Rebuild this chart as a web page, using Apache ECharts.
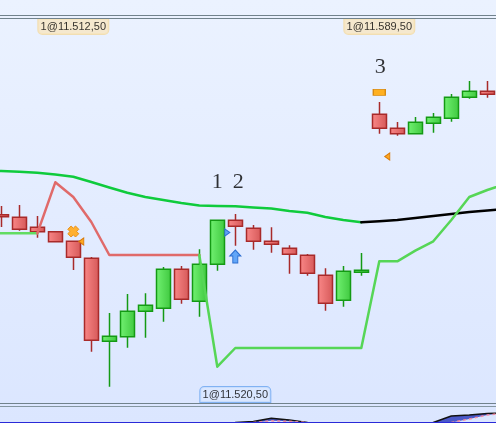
<!DOCTYPE html>
<html><head><meta charset="utf-8">
<style>html,body{margin:0;padding:0;background:#e6eeff}#c{width:496px;height:423px}</style>
<script src="https://cdn.jsdelivr.net/npm/echarts@6/dist/echarts.min.js"></script>
</head><body><div id="c"></div>
<script>
// One session of index futures, [open, close, low, high]
const sessions = Array.from({length:30},(_,i)=>String(i));
const candles = [
 ['-','-','-','-'],
 [11504.15,11503.15,11498,11508.5],
 [11502.85,11496.85,11496.15,11509],
 [11497.85,11495.65,11492.65,11503.5],
 [11495.65,11490.65,11490.25,11495.65],
 [11490.85,11482.85,11476.5,11491],
 [11482.35,11441.35,11435.65,11483],
 [11440.85,11443.35,11418.15,11455],
 [11443.15,11455.85,11437.65,11464.5],
 [11455.85,11458.85,11442.65,11464.85],
 [11457.35,11476.85,11450.65,11478],
 [11476.85,11461.85,11459.65,11478.5],
 [11460.85,11479.35,11453.15,11486.85],
 [11479.35,11501.35,11476.15,11501.35],
 [11501.35,11498.35,11488.65,11504.5],
 [11497.35,11490.85,11486.65,11499],
 [11490.85,11489.35,11485.15,11497.85],
 [11487.35,11484.35,11474.65,11488.85],
 [11483.85,11474.85,11473.65,11484.5],
 [11473.85,11459.85,11456.15,11477.35],
 [11461.35,11475.85,11458.15,11478.5],
 [11475.35,11476.35,11473.65,11485],
 [11554.35,11547.35,11544.65,11560.5],
 [11547.35,11544.65,11543.65,11550.5],
 [11544.65,11550.35,11544.65,11553],
 [11549.85,11552.85,11545.15,11555],
 [11552.35,11562.85,11550.65,11564.5],
 [11562.85,11565.85,11562.15,11571],
 [11565.85,11564.35,11562.65,11571],
 ['-','-','-','-']
];
const slowGreen = [11526.25,11526,11525.65,11525.15,11524.25,11523.15,11520.5,11517.75,11515.15,11513,11511.5,11510,11508.75,11508.5,11508.35,11507.75,11507.25,11506,11505.15,11503,11501.5,11500.35];
const slowBlack = [null,null,null,null,null,null,null,null,null,null,null,null,null,null,null,null,null,null,null,null,null,11500.35,11500.85,11501.5,11502.5,11503.5,11504.5,11505.5,11506.25,11507];
const stopLong1 = [11494.85,11494.85,11494.85,11494.85];
const stopShort = [null,null,null,11494.85,11520.35,11513,11500.5,11484,11484,11484,11484,11484,11484];
const stopLong2 = [null,null,null,null,null,null,null,null,null,null,null,null,11484,11428.15,11437.5,11437.5,11437.5,11437.5,11437.5,11437.5,11437.5,11437.5,11480.85,11480.85,11486.15,11490.85,11501.5,11513,11516.5,11519.5];
const indicator = [null,null,null,null,null,null,null,null,null,null,null,null,null,null,0.5,1.6,4.7,3,0.5,null,null,null,null,null,null,0.5,7,8,9.5,10];
const indicatorSignal = [null,null,null,null,null,null,null,null,null,null,null,null,null,null,null,0.5,2.2,1.7,0.5,null,null,null,null,null,null,null,0.5,4,8,10];
const sellOrderLabels = [['5',11598.25,'1@11.512,50'],['22',11598.25,'1@11.589,50']];
const buyOrderLabels = [['14',11414.25,'1@11.520,50']];
const waveNumberOne = [['13',11521,'1']];
const waveNumberTwo = [['14',11521,'2']];
const waveNumberThree = [['22',11578.5,'3']];
const crossMarks = [['5',11495.75]];
const orangeTriangles = [['5',11490.75],['22',11533.25]];
const blueTriangles = [['13',11495.25]];
const blueArrows = [['14',11483.25]];
const orangeBoxes = [['22',11565.35]];

const grad=(a,b)=>({type:'linear',x:0,y:0,x2:1,y2:0,colorStops:[{offset:0,color:a},{offset:1,color:b}]});
const FONT='"Liberation Sans",Arial,sans-serif';
const line=(name,data,color,width,z,extra)=>Object.assign({name,type:'line',data,symbol:'none',silent:true,z,
  connectNulls:false,lineStyle:{color,width,cap:'round',join:'round'}},extra||{});
const marks=(data,symbol,size,color,border,extra)=>Object.assign({type:'scatter',data,symbol,symbolSize:size,z:8,silent:true,
  itemStyle:{color,borderColor:border,borderWidth:1,opacity:1}},extra||{});
const tag=(data,bg,border,radius)=>({type:'scatter',data,symbolSize:1,z:9,silent:true,itemStyle:{color:'transparent'},
  label:{show:true,position:'inside',formatter:p=>p.data[2],fontFamily:FONT,fontSize:11,color:'#000',
    width:70,height:15,lineHeight:15,align:'center',verticalAlign:'middle',backgroundColor:bg,borderColor:border,borderWidth:1,borderRadius:radius}});
const numeral=(data,offset)=>({type:'scatter',data,symbolSize:1,z:9,silent:true,itemStyle:{color:'transparent'},
  label:{show:true,position:'inside',offset,formatter:p=>p.data[2],fontFamily:'"Liberation Serif",serif',fontSize:22,color:'#000'}});

const chart=echarts.init(document.getElementById('c'),null,{renderer:'canvas',width:496,height:423});
chart.setOption({
 animation:false,
 backgroundColor:{type:'linear',x:0,y:0,x2:0,y2:1,colorStops:[{offset:0,color:'#EBF2FF'},{offset:1,color:'#DBE6FF'}]},
 tooltip:{show:false},
 grid:[{left:-25.7,width:540,top:0,height:423,outerBoundsMode:'none',containLabel:false},{left:-25.7,width:540,top:406,height:17,outerBoundsMode:'none',containLabel:false}],
 xAxis:[{type:'category',data:sessions,show:false,boundaryGap:true,gridIndex:0},{type:'category',data:sessions,show:false,boundaryGap:true,gridIndex:1}],
 yAxis:[{type:'value',min:11400,max:11611.5,show:false,splitLine:{show:false},gridIndex:0},{type:'value',min:0,max:17,show:false,splitLine:{show:false},gridIndex:1}],
 graphic:[
  {type:'rect',shape:{x:0,y:15,width:496,height:1},style:{fill:'#71828C'},z:20},
  {type:'rect',shape:{x:0,y:18,width:496,height:1},style:{fill:'#71828C'},z:20},
  {type:'rect',shape:{x:0,y:403,width:496,height:1},style:{fill:'#71828C'},z:20},
  {type:'rect',shape:{x:0,y:406,width:496,height:1},style:{fill:'#8496A0'},z:20},
  {type:'rect',shape:{x:0,y:422,width:496,height:1},style:{fill:'#2A2AD8'},z:20}
 ],
 series:[
  line('Slow average',slowGreen,'#0FCB3C',2.5,3),
  line('Slow average (flat)',slowBlack,'#000',2.5,3),
  {type:'candlestick',data:candles,barWidth:14,z:4,silent:true,
   itemStyle:{color:grad('#72F272','#3FC83F'),color0:grad('#FA8888','#D55858'),borderColor:'#149A14',borderColor0:'#A82A2A',borderWidth:1.5}},
  line('Stop long',stopLong1,'#62DC62',2.5,5),
  line('Stop short',stopShort,'#E06A6A',2.5,5),
  line('Stop long 2',stopLong2,'#56D656',2.5,5),
  marks(crossMarks,'path://M3 0 L5 2 L7 0 L10 3 L8 5 L10 7 L7 10 L5 8 L3 10 L0 7 L2 5 L0 3 Z',11,'#FFB030','#E8901A'),
  marks(orangeTriangles,'triangle',[7,5],'#FFA820','#D87A08',{symbolRotate:90,symbolOffset:[8,0]}),
  marks(blueTriangles,'triangle',[7,5],'#5FA0F5','#2F70D8',{symbolRotate:-90,symbolOffset:[10,0]}),
  marks(blueArrows,'path://M5.5 0 L11 6 L8 6 L8 13 L3 13 L3 6 L0 6 Z',[11,13],'#62A6F8','#2C6ED0'),
  marks(orangeBoxes,'rect',[12,6],'#FFB020','#D88A10'),
  tag(sellOrderLabels,'#F8E6C2','#F3D9A0',[0,0,4,4]),
  tag(buyOrderLabels,'#D9E7FF','#6AA5F0',[4,4,0,0]),
  numeral(waveNumberOne,[0,1]),
  numeral(waveNumberTwo,[3,1]),
  numeral(waveNumberThree,[1,1]),
  line('Indicator',indicator,'#111',1.5,2,{xAxisIndex:1,yAxisIndex:1,areaStyle:{color:'#4A58C8',opacity:1}}),
  line('Indicator mask',indicatorSignal,'#F08AA0',1.5,3,{xAxisIndex:1,yAxisIndex:1,areaStyle:{color:'#DBE6FF',opacity:1},lineStyle:{color:'#F08AA0',width:1.5,type:[3,3]}})
 ]
});
</script></body></html>
